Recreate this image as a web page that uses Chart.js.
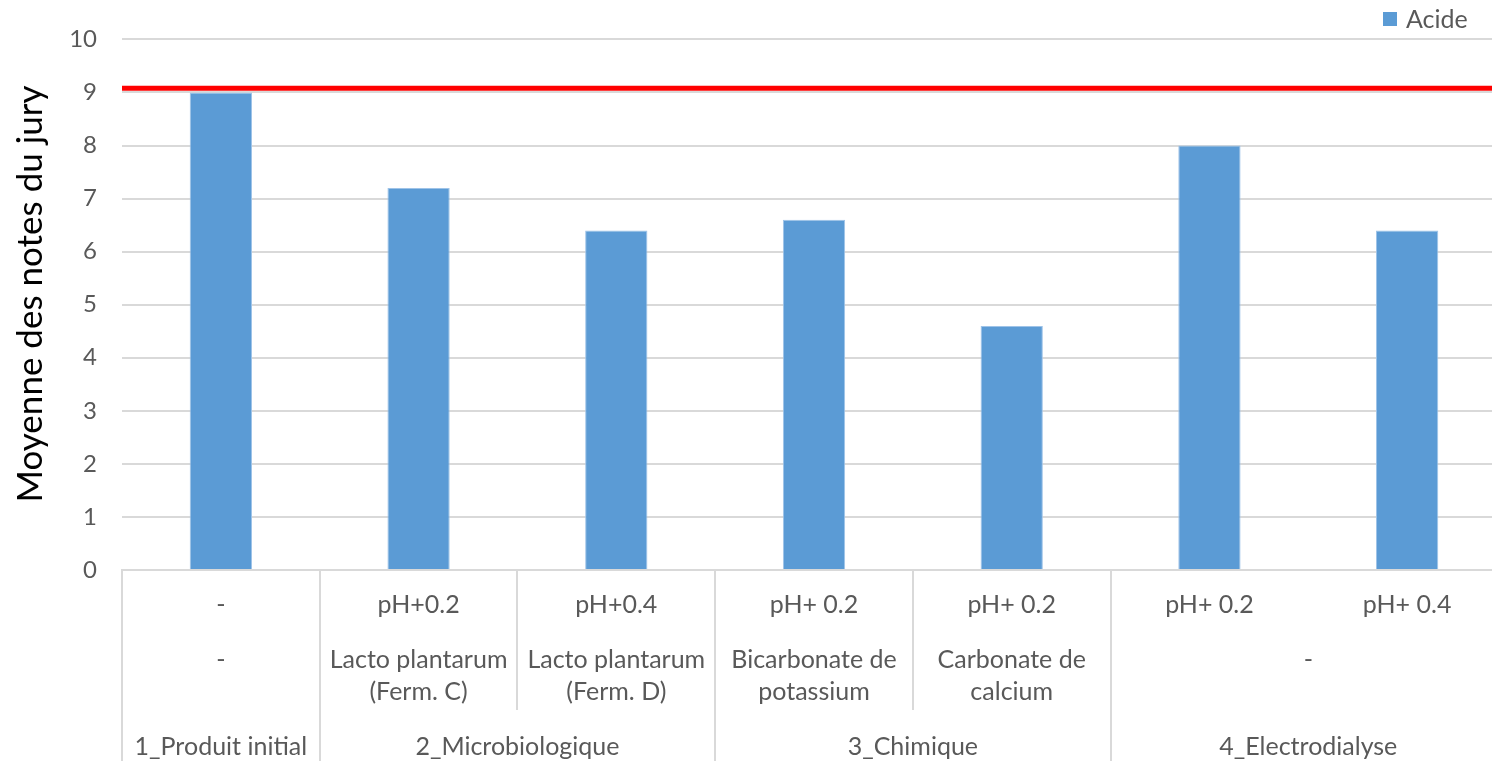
<!DOCTYPE html>
<html>
<head>
<meta charset="utf-8">
<script src="https://cdn.jsdelivr.net/npm/chart.js@4"></script>
<style>
  html, body { margin: 0; padding: 0; background: #fff; overflow: hidden; }
  /* la zone de tracé déborde à droite comme dans l'original */
  #wrap { width: 1506px; height: 761px; }
</style>
</head>
<body>
<div id="wrap"><canvas id="chartAcide"></canvas></div>
<script>
  // ===== données =====
  const niveau1 = ["-", "pH+0.2", "pH+0.4", "pH+ 0.2", "pH+ 0.2", "pH+ 0.2", "pH+ 0.4"];
  const sousGroupes = [["-"], ["Lacto plantarum", "(Ferm. C)"], ["Lacto plantarum", "(Ferm. D)"],
    ["Bicarbonate de", "potassium"], ["Carbonate de", "calcium"], ["-"]];
  const sousGroupeTailles = [1, 1, 1, 1, 1, 2];
  const groupes = ["1_Produit initial", "2_Microbiologique", "3_Chimique", "4_Electrodialyse"];
  const groupeTailles = [1, 2, 2, 2];
  const acide = [9.0, 7.2, 6.4, 6.6, 4.6, 8.0, 6.4];
  const seuil = 9.08;
  const yTicks = [0, 1, 2, 3, 4, 5, 6, 7, 8, 9, 10];
  const titreY = "Moyenne des notes du jury";

  const FONT = "Lato";
  const GRIS = "#595959";
  const GRILLE = "#d9d9d9";
  const BLEU = "#5b9bd5";

  // axe multi-niveaux façon Excel + ligne rouge + légende + titre Y
  const axeMulti = {
    id: "axeMulti",
    afterDatasetsDraw(chart) {
      const { ctx, chartArea, scales } = chart;
      const ys = scales.y.getPixelForValue(seuil);
      ctx.save();
      ctx.strokeStyle = "#ff0000";
      ctx.lineWidth = 5;
      ctx.beginPath();
      ctx.moveTo(chartArea.left, ys);
      ctx.lineTo(chartArea.right, ys);
      ctx.stroke();
      ctx.restore();
    },
    afterDraw(chart) {
      const { ctx, chartArea, scales } = chart;
      const x = scales.x;
      const n = niveau1.length;
      const b = chartArea.bottom;
      const H = chart.height;
      const bord = (i) => {
        if (i <= 0) return chartArea.left;
        if (i >= n) return chartArea.right;
        return (x.getPixelForValue(i - 1) + x.getPixelForValue(i)) / 2;
      };

      ctx.save();
      ctx.strokeStyle = GRILLE;
      ctx.lineWidth = 2;

      // séparateurs des groupes (pleine hauteur)
      const debutsGroupes = new Set([0]);
      let k = 0;
      groupeTailles.forEach(t => { k += t; if (k < n) debutsGroupes.add(k); });
      debutsGroupes.forEach(i => {
        const px = Math.round(bord(i));
        ctx.beginPath(); ctx.moveTo(px, b); ctx.lineTo(px, H); ctx.stroke();
      });
      // séparateurs des sous-groupes
      k = 0;
      sousGroupeTailles.forEach(t => {
        k += t;
        if (k < n && !debutsGroupes.has(k)) {
          const px = Math.round(bord(k));
          ctx.beginPath(); ctx.moveTo(px, b); ctx.lineTo(px, b + 140); ctx.stroke();
        }
      });

      ctx.fillStyle = GRIS;
      ctx.textAlign = "center";
      ctx.textBaseline = "middle";
      ctx.font = "25px " + FONT;

      niveau1.forEach((lab, i) => {
        ctx.fillText(lab, x.getPixelForValue(i), b + 35);
      });

      k = 0;
      sousGroupes.forEach((lignes, j) => {
        const cx = (bord(k) + bord(k + sousGroupeTailles[j])) / 2;
        lignes.forEach((l, li) => ctx.fillText(l, cx, b + 90 + li * 32));
        k += sousGroupeTailles[j];
      });

      k = 0;
      groupes.forEach((g, j) => {
        const cx = (bord(k) + bord(k + groupeTailles[j])) / 2;
        ctx.fillText(g, cx, b + 177);
        k += groupeTailles[j];
      });

      // légende
      const ds = chart.data.datasets[0];
      ctx.fillStyle = ds.backgroundColor;
      ctx.fillRect(1383, 12, 14, 14);
      ctx.fillStyle = GRIS;
      ctx.textAlign = "left";
      ctx.fillText(ds.label, 1406, 20);

      // titre de l'axe Y
      ctx.translate(31, 294);
      ctx.rotate(-Math.PI / 2);
      ctx.textAlign = "center";
      ctx.fillStyle = "#000";
      ctx.font = "35px " + FONT;
      ctx.fillText(titreY, 0, 0);
      ctx.restore();
    }
  };

  const ctx = document.getElementById("chartAcide").getContext("2d");
  const chart = new Chart(ctx, {
    type: "bar",
    data: {
      labels: niveau1,
      datasets: [{
        label: "Acide",
        data: acide,
        backgroundColor: BLEU,
        borderColor: "#9ec3e8",
        borderWidth: 1,
        categoryPercentage: 1.0,
        barPercentage: 0.315
      }]
    },
    options: {
      responsive: true,
      maintainAspectRatio: false,
      animation: false,
      layout: { padding: { top: 21, right: 0, bottom: 191, left: 0 } },
      plugins: {
        legend: { display: false },
        tooltip: { enabled: false }
      },
      scales: {
        x: {
          afterFit: (s) => { s.height = 0; },
          ticks: { display: false },
          grid: { display: false },
          border: { display: true, color: GRILLE, width: 2 }
        },
        y: {
          min: 0,
          max: 10,
          afterBuildTicks: (s) => { s.ticks = yTicks.map(v => ({ value: v })); },
          afterFit: (s) => { s.width = 122; },
          ticks: {
            color: GRIS,
            font: { family: FONT, size: 24 },
            padding: 25
          },
          grid: { color: GRILLE, lineWidth: 2, drawTicks: false },
          border: { display: false },
          title: { display: false }
        }
      }
    },
    plugins: [axeMulti]
  });
</script>
</body>
</html>
